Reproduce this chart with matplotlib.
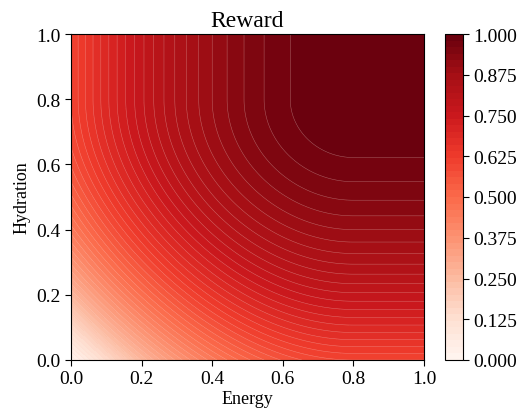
import numpy as np
import matplotlib
matplotlib.use("Agg")
import matplotlib.pyplot as plt

plt.rcParams["font.family"] = ["Liberation Serif", "DejaVu Serif"]
plt.rcParams["mathtext.fontset"] = "stix"

# Homeostatic reward over the (energy, hydration) state space
setpoint_energy = 0.8        # reward saturates once energy >= this
setpoint_hydration = 0.8     # reward saturates once hydration >= this
deficit_scale = 1.6          # squared deficit that costs the full reward
joint_penalty = 0.78         # extra cost when both needs are unmet
n_levels = 51                # filled contour boundaries from 0 to 1

x_ticks = [0.0, 0.2, 0.4, 0.6, 0.8, 1.0]
y_ticks = [0.0, 0.2, 0.4, 0.6, 0.8, 1.0]
cbar_ticks = [0.0, 0.125, 0.25, 0.375, 0.5, 0.625, 0.75, 0.875, 1.0]

energy = np.linspace(0.0, 1.0, 501)
hydration = np.linspace(0.0, 1.0, 501)
E, H = np.meshgrid(energy, hydration)

dE2 = np.clip(setpoint_energy - E, 0, None) ** 2
dH2 = np.clip(setpoint_hydration - H, 0, None) ** 2
cost = (dE2 + dH2 + joint_penalty * dE2 * dH2) / deficit_scale
reward = np.clip(1.0 - cost, 0.0, 1.0)

fig = plt.figure(figsize=(5.23, 4.10), dpi=100)
ax = fig.add_axes([71 / 523, 1 - 361 / 410, 353 / 523, 326 / 410])
cax = fig.add_axes([445 / 523, 1 - 361 / 410, 18 / 523, 326 / 410])

levels = np.linspace(0.0, 1.0, n_levels)
cs = ax.contourf(E, H, reward, levels=levels, cmap="Reds", vmin=0, vmax=1)
ax.contour(E, H, reward, levels=levels[1:-1], colors="#ffd8d0",
           linewidths=0.35, alpha=0.45)

ax.set_xlim(0, 1)
ax.set_ylim(0, 1)
ax.set_xticks(x_ticks)
ax.set_yticks(y_ticks)
ax.tick_params(labelsize=14, direction="out", length=4)
ax.set_xlabel("Energy", fontsize=13, labelpad=2)
ax.set_ylabel("Hydration", fontsize=13, labelpad=4)
ax.set_title("Reward", fontsize=17, pad=6)

cb = fig.colorbar(cs, cax=cax, ticks=cbar_ticks)
cb.ax.set_yticklabels([f"{t:.3f}" for t in cbar_ticks])
cb.ax.tick_params(labelsize=14, length=4)
cb.outline.set_linewidth(0.8)

fig.savefig("out.png", dpi=100)
